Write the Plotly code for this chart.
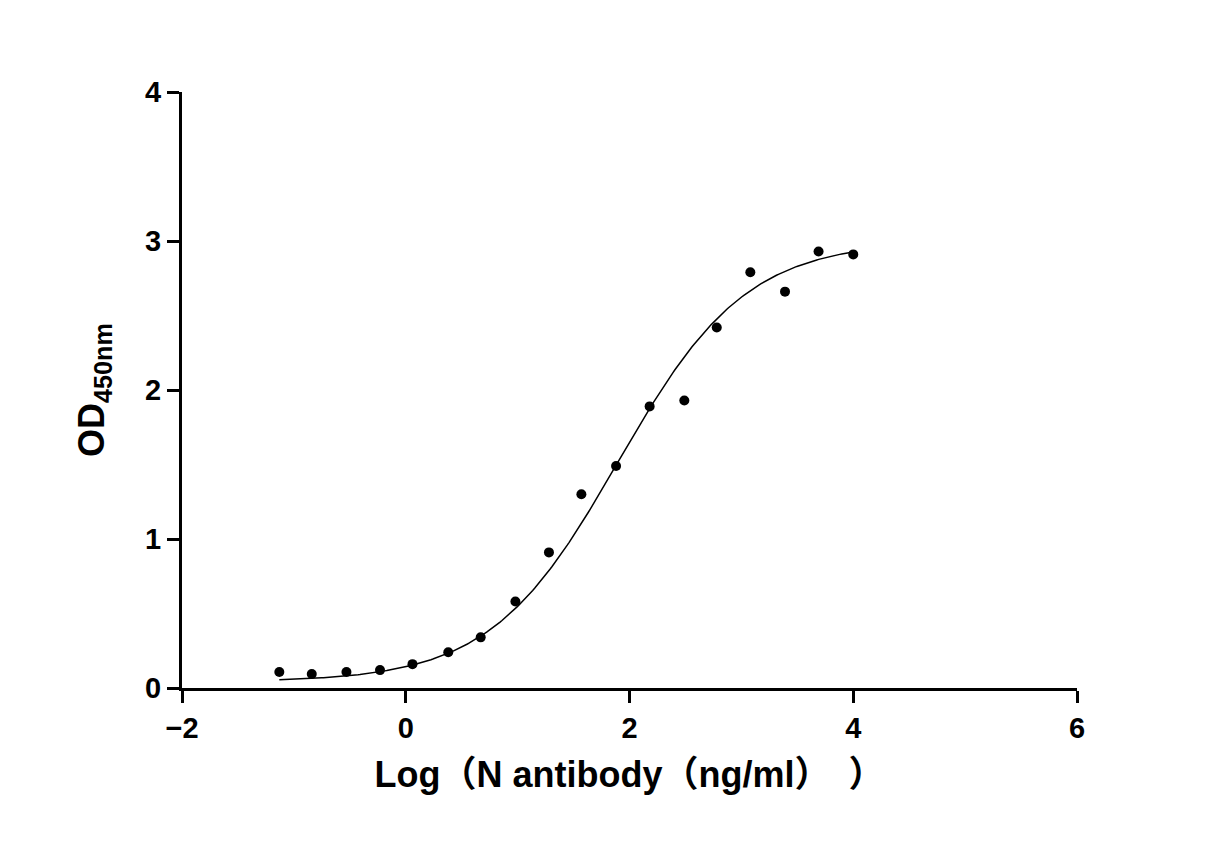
import plotly.graph_objects as go
import numpy as np

log_conc = [-1.13, -0.84, -0.53, -0.23, 0.06, 0.38, 0.67, 0.98, 1.28, 1.57, 1.88, 2.18, 2.49, 2.78, 3.08, 3.39, 3.69, 4.0]
od450 = [0.107, 0.094, 0.107, 0.12, 0.16, 0.24, 0.34, 0.58, 0.91, 1.30, 1.49, 1.89, 1.93, 2.42, 2.79, 2.66, 2.93, 2.91]

# 4PL fit parameters
bottom, top, logec50, hill = 0.04, 3.0, 1.9, 0.76
xf = np.linspace(-1.13, 4.0, 300)
yf = bottom + (top - bottom) / (1 + 10 ** (hill * (logec50 - xf)))

font = dict(family="Liberation Sans, Arial", size=29, color="black", weight="bold")
fig = go.Figure()
fig.add_trace(go.Scatter(x=xf, y=yf, mode="lines", line=dict(color="black", width=1.5), hoverinfo="skip"))
fig.add_trace(go.Scatter(x=log_conc, y=od450, mode="markers", marker=dict(color="black", size=10)))
axis_common = dict(showline=True, linewidth=3, linecolor="black", ticks="outside", ticklen=12, tickwidth=3,
                   tickcolor="black", showgrid=False, zeroline=False, tickfont=font, automargin=False)
fig.update_layout(
    width=1206, height=863, plot_bgcolor="white", paper_bgcolor="white", showlegend=False,
    margin=dict(l=174, r=137, t=84, b=183),
    xaxis=dict(range=[-2, 6], tickvals=[-2, 0, 2, 4, 6], **axis_common,
               title=dict(text="<b>Log（N antibody（ng/ml）　）</b>", font=dict(family="Liberation Sans, Noto Sans CJK SC", size=36, color="black"), standoff=20)),
    yaxis=dict(range=[0, 4], tickvals=[0, 1, 2, 3, 4], **axis_common,
               title=dict(text="<b>OD<sub>450nm</sub></b>", font=dict(family="Liberation Sans, Arial", size=36, color="black"), standoff=30)),
)
fig.write_html("out.html")
